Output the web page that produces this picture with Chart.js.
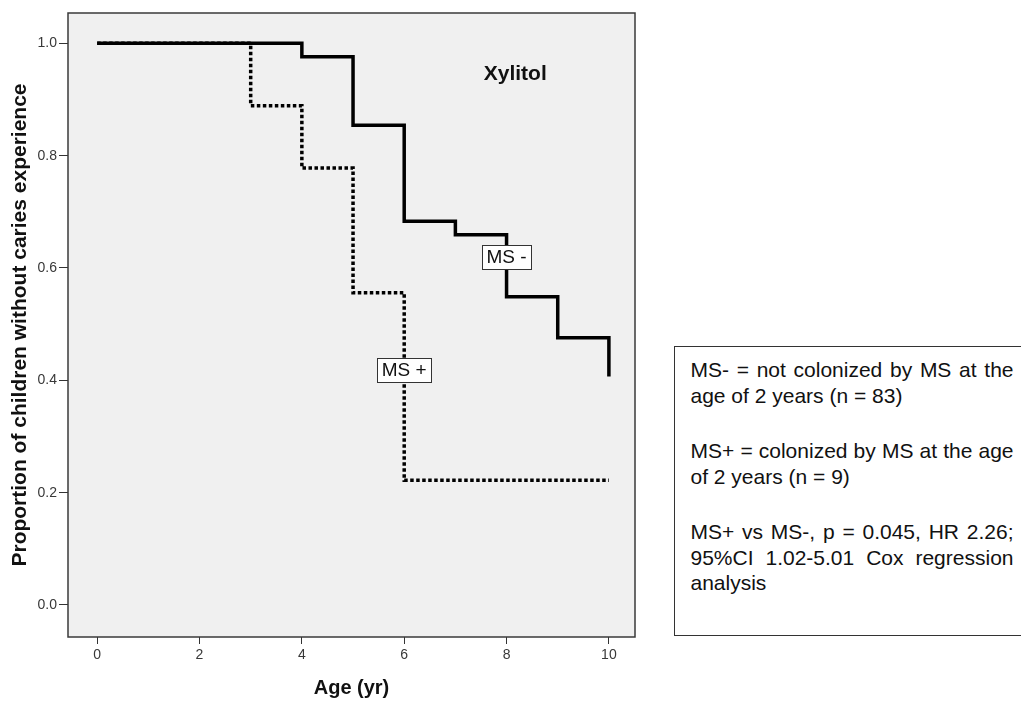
<!DOCTYPE html>
<html>
<head>
<meta charset="utf-8">
<title>Xylitol – caries-free survival by MS colonization</title>
<script src="https://cdn.jsdelivr.net/npm/chart.js@4.4.1/dist/chart.umd.min.js"></script>
<style>
  html, body { margin: 0; padding: 0; background: #fff; width: 1021px; height: 701px; overflow: hidden; }
  #wrap { position: relative; width: 1021px; height: 701px; }
  #chart { position: absolute; left: 0; top: 0; }
  #note {
    position: absolute; left: 674px; top: 346px;
    width: 323px; height: 278px;
    padding: 10px 20px 0 15.5px;
    border: 1.5px solid #333;
    background: #fff;
    font-family: "Liberation Sans", Arial, sans-serif;
    font-size: 21px; line-height: 25.5px; color: #111;
  }
  #note .j { text-align: justify; text-align-last: justify; }
  #note .gap { margin-top: 30px; }
</style>
</head>
<body>
<div id="wrap">
  <canvas id="chart" width="1021" height="701"></canvas>
  <div id="note">
    <div class="j">MS- = not colonized by MS at the</div>
    <div>age of 2 years (n = 83)</div>
    <div class="j gap">MS+ = colonized by MS at the age</div>
    <div>of 2 years (n = 9)</div>
    <div class="j gap">MS+ vs MS-, p = 0.045, HR 2.26;</div>
    <div class="j">95%CI 1.02-5.01 Cox regression</div>
    <div>analysis</div>
  </div>
</div>
<script>
// Kaplan–Meier estimates: age at event (years) and proportion still caries-free
const msNegAge  = [0, 4, 5, 6, 7, 8, 9, 10];
const msNegSurv = [1.0, 0.976, 0.854, 0.683, 0.659, 0.549, 0.476, 0.407];
const msPosAge  = [0, 3, 4, 5, 6, 10];
const msPosSurv = [1.0, 0.889, 0.778, 0.556, 0.222, 0.222];

// Axis tick values
const xTickValues = [0, 2, 4, 6, 8, 10];
const yTickValues = [0.0, 0.2, 0.4, 0.6, 0.8, 1.0];

// Curve labels and the point each one sits on
const curveLabels = ['MS -', 'MS +'];
const curveLabelAt = [{ x: 8, y: 0.62 }, { x: 6, y: 0.419 }];

const toPoints = (xs, ys) => xs.map((x, i) => ({ x, y: ys[i] }));

const FONT = '"Liberation Sans", Arial, sans-serif';

// Grey plotting panel with a dark frame
const panel = {
  id: 'panel',
  beforeDatasetsDraw(chart) {
    const { ctx, chartArea: a } = chart;
    ctx.save();
    ctx.fillStyle = '#f0f0f0';
    ctx.fillRect(a.left, a.top, a.right - a.left, a.bottom - a.top);
    ctx.restore();
  },
  afterDraw(chart) {
    const { ctx, chartArea: a } = chart;
    ctx.save();
    ctx.strokeStyle = '#3a3a3a';
    ctx.lineWidth = 1.5;
    ctx.strokeRect(a.left, a.top, a.right - a.left, a.bottom - a.top);
    ctx.restore();
  }
};

// Boxed curve labels and the group heading inside the panel
const annotations = {
  id: 'annotations',
  afterDatasetsDraw(chart) {
    const { ctx, scales: { x, y } } = chart;
    ctx.save();
    ctx.font = '19px ' + FONT;
    ctx.textAlign = 'center';
    ctx.textBaseline = 'middle';
    curveLabels.forEach((txt, i) => {
      const px = x.getPixelForValue(curveLabelAt[i].x);
      const py = y.getPixelForValue(curveLabelAt[i].y);
      const w = Math.round(ctx.measureText(txt).width + 9);
      const h = 24;
      const bx = Math.round(px - w / 2) + 0.5, by = Math.round(py - h / 2) + 0.5;
      ctx.fillStyle = '#ffffff';
      ctx.fillRect(bx, by, w, h);
      ctx.strokeStyle = '#333';
      ctx.lineWidth = 1;
      ctx.strokeRect(bx, by, w, h);
      ctx.fillStyle = '#111';
      ctx.fillText(txt, px, py + 1);
    });
    ctx.font = 'bold 21px ' + FONT;
    ctx.textBaseline = 'alphabetic';
    ctx.fillStyle = '#111';
    ctx.fillText('Xylitol', x.getPixelForValue(8.17), y.getPixelForValue(0.935));
    ctx.restore();
  }
};

new Chart(document.getElementById('chart'), {
  type: 'line',
  data: {
    datasets: [
      {
        label: 'MS -',
        data: toPoints(msNegAge, msNegSurv),
        stepped: true,
        borderColor: '#000',
        borderWidth: 3.5,
        borderCapStyle: 'butt',
        borderJoinStyle: 'miter',
        pointRadius: 0,
        fill: false
      },
      {
        label: 'MS +',
        data: toPoints(msPosAge, msPosSurv),
        stepped: true,
        borderColor: '#000',
        borderWidth: 3.5,
        borderDash: [3.5, 2.5],
        borderCapStyle: 'butt',
        borderJoinStyle: 'miter',
        pointRadius: 0,
        fill: false
      }
    ]
  },
  options: {
    responsive: false,
    animation: false,
    events: [],
    layout: { padding: { left: 0, top: 13, right: 386, bottom: 0 } },
    plugins: { legend: { display: false }, tooltip: { enabled: false }, title: { display: false } },
    scales: {
      x: {
        type: 'linear',
        min: -0.57,
        max: 10.51,
        afterBuildTicks(s) { s.ticks = xTickValues.map(v => ({ value: v })); },
        afterFit(s) { s.height = 64; },
        ticks: {
          color: '#383838',
          font: { family: FONT, size: 14 },
          padding: 3,
          maxRotation: 0,
          callback: v => String(v)
        },
        grid: { drawOnChartArea: false, drawTicks: true, tickLength: 7, color: '#333', tickWidth: 1 },
        border: { display: false },
        title: {
          display: true,
          text: 'Age (yr)',
          color: '#111',
          font: { family: FONT, size: 20, weight: 'bold' },
          padding: { top: 0, bottom: 1 }
        }
      },
      y: {
        type: 'linear',
        min: -0.057,
        max: 1.054,
        afterBuildTicks(s) { s.ticks = yTickValues.map(v => ({ value: v })); },
        afterFit(s) { s.width = 68; },
        ticks: {
          color: '#383838',
          font: { family: FONT, size: 14 },
          padding: 2,
          callback: v => Number(v).toFixed(1)
        },
        grid: { drawOnChartArea: false, drawTicks: true, tickLength: 9, color: '#333', tickWidth: 1 },
        border: { display: false },
        title: {
          display: true,
          text: 'Proportion of children without caries experience',
          color: '#111',
          font: { family: FONT, size: 21, weight: 'bold' },
          padding: { top: 8, bottom: 0 }
        }
      }
    }
  },
  plugins: [panel, annotations]
});
</script>
</body>
</html>
